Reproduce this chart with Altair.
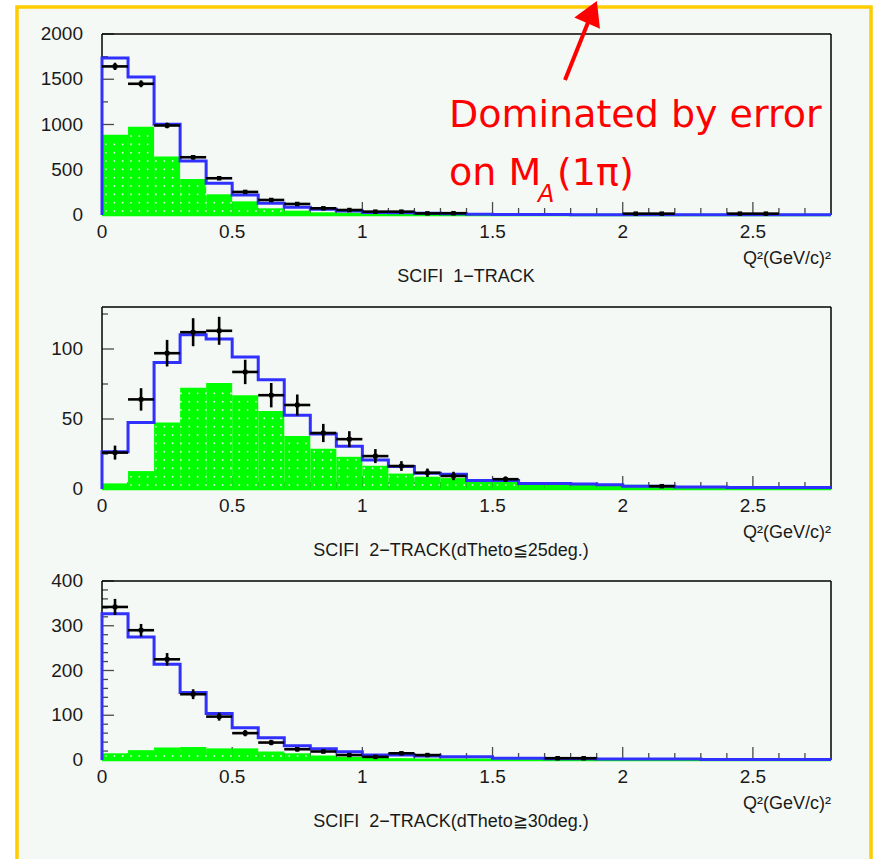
import altair as alt
import pandas as pd

# ---------------- data ----------------
X_MAX = 2.8
BIN_W = 0.1
bin_starts = [round(i * BIN_W, 1) for i in range(28)]

x_major = [0, 0.5, 1, 1.5, 2, 2.5]
x_major_labels = ["0", "0.5", "1", "1.5", "2", "2.5"]
x_minor = [round(0.1 * i, 1) for i in range(1, 28) if i % 5 != 0]

# Panel 1 : SCIFI 1-TRACK
p1_mc = [1734, 1524, 1004, 598, 350, 221, 129, 85, 63, 44, 29, 26, 18, 15,
         7, 6, 5, 5, 4, 4, 3, 3, 3, 2, 2, 2, 2, 2]
p1_bg = [886, 974, 646, 399, 229, 151, 74, 48, 30, 25, 20, 18, 14, 12,
         5, 5, 4, 4, 3, 3, 3, 2, 2, 2, 2, 2, 2, 2]
p1_pt_bin = [0.0, 0.1, 0.2, 0.3, 0.4, 0.5, 0.6, 0.7, 0.8, 0.9, 1.0, 1.1, 1.2, 1.3, 2.0, 2.1, 2.4, 2.5]
p1_pt_val = [1642, 1450, 989, 638, 406, 255, 166, 122, 74, 55, 37, 37, 18, 20, 15, 15, 15, 15]
p1_pt_err = [40, 38, 31, 25, 20, 16, 13, 11, 9, 7, 6, 6, 5, 5, 0, 0, 0, 0]
p1_ymax = 2000
p1_y_major = [0, 500, 1000, 1500, 2000]
p1_y_minor = [250, 750, 1250, 1750]
p1_title = "SCIFI\u00a0 1\u2212TRACK"

# Panel 2 : SCIFI 2-TRACK (dTheta <= 25 deg)
p2_mc = [26.6, 47.5, 90.3, 110.2, 107.1, 94.3, 78.1, 52.7, 39.2, 30.6, 20.7, 16, 11.2, 10.5,
         6, 6, 4, 4, 3.5, 3, 2, 2, 1.5, 1.5, 1, 1, 1, 1]
p2_bg = [4, 12.8, 47.5, 72.4, 75.8, 67, 55.8, 37.8, 28.7, 23, 16.6, 11, 8.8, 7.8,
         6, 6, 3.5, 3.5, 3.5, 3.5, 3, 2, 1.5, 1.5, 1, 1, 1, 1]
p2_pt_bin = [0.0, 0.1, 0.2, 0.3, 0.4, 0.5, 0.6, 0.7, 0.8, 0.9, 1.0, 1.1, 1.2, 1.3, 1.5, 2.1]
p2_pt_val = [26, 64, 97, 112, 113, 83.6, 67, 60, 40, 35.6, 23.5, 16.4, 11.6, 9.3, 7, 2]
p2_pt_err = [5, 8, 9.5, 10, 10, 8.7, 8.7, 7.5, 6.5, 5.7, 5, 3.5, 3, 3, 2, 0]
p2_ymax = 130
p2_y_major = [0, 50, 100]
p2_y_minor = [25, 75, 125]
p2_title = "SCIFI\u00a0 2\u2212TRACK(dTheto\u226625deg.)"

# Panel 3 : SCIFI 2-TRACK (dTheta >= 30 deg)
p3_mc = [327, 275, 214, 151, 104, 72, 50, 32, 25, 18.6, 11, 11, 9, 7,
         7, 4, 4, 3, 3, 2, 2, 2, 2, 1, 1, 1, 1, 1]
p3_bg = [15, 22, 28, 29, 26, 26, 19, 15, 10, 7, 5, 4, 3, 3,
         3, 2, 2, 2, 2, 2, 1, 1, 1, 1, 1, 1, 1, 1]
p3_pt_bin = [0.0, 0.1, 0.2, 0.3, 0.4, 0.5, 0.6, 0.7, 0.8, 0.9, 1.0, 1.1, 1.2, 1.7, 1.8]
p3_pt_val = [342, 290, 225, 147, 97, 60, 39, 24, 19, 11, 7, 15, 11, 4, 4]
p3_pt_err = [18, 14, 14, 11, 9, 7, 6, 5, 4, 3, 3, 3, 3, 0, 0]
p3_ymax = 400
p3_y_major = [0, 100, 200, 300, 400]
p3_y_minor = [20, 40, 60, 80, 120, 140, 160, 180, 220, 240, 260, 280, 320, 340, 360, 380]
p3_title = "SCIFI\u00a0 2\u2212TRACK(dTheto\u226730deg.)"

x_title = "Q\u00b2(GeV/c)\u00b2"
note_line1 = "Dominated by error"
note_line2a = "on M"
note_sub = "A"
note_line2b = "(1\u03c0)"

# ---------------- layout ----------------
W = 729
H_TOTAL = 726
P1_RANGE = [181, 0]
P2_RANGE = [455, 273]
P3_RANGE = [726, 547]

GREEN = "#00ff00"
BLUE = "#3030ff"
RED = "#ff0000"
FONT = "Liberation Sans"
TXT = "#1a1a1a"

xscale = alt.Scale(domain=[0, X_MAX], nice=False, zero=False)


def stipple(bg, ppu):
    xs, ys = [], []
    step = 8.33
    i = 0
    while True:
        xp = 4 + i * step
        if xp > W - 2:
            break
        xv = xp / W * X_MAX
        b = min(int(xv / BIN_W), len(bg) - 1)
        top_px = bg[b] * ppu
        j = 0
        while True:
            yp = 4 + j * step
            if yp > top_px - 2.5:
                break
            xs.append(xv)
            ys.append(yp / ppu)
            j += 1
        i += 1
    return pd.DataFrame({"x": xs, "y": ys})


def X(f):
    return alt.X(f, scale=xscale, axis=None)


def panel(mc, bg, pb, pv, pe, ymax, rng, ymaj, ymin, title, title_x, extra=None):
    ys = alt.Scale(domain=[0, ymax], range=rng, nice=False, zero=True)
    ppu = abs(rng[0] - rng[1]) / ymax

    def Y(f):
        return alt.Y(f, scale=ys, axis=None)

    line_df = pd.DataFrame({
        "i": list(range(len(bin_starts) + 2)),
        "x": [0.0] + bin_starts + [X_MAX],
        "mc": [0] + mc + [mc[-1]],
    })
    bar_df = pd.DataFrame({"x": bin_starts, "x2": [b + BIN_W for b in bin_starts],
                           "bg": bg, "z": [0] * len(bg)})
    pts = pd.DataFrame({"b": pb, "v": pv, "e": pe})
    pts["xl"] = pts["b"]
    pts["xr"] = pts["b"] + BIN_W
    pts["xc"] = pts["b"] + BIN_W / 2
    pts["lo"] = pts["v"] - pts["e"]
    pts["hi"] = pts["v"] + pts["e"]

    frame_df = pd.DataFrame({"x0": [0.0], "x1": [X_MAX], "y0": [0], "y1": [ymax],
                             "xt": [x_title], "tt": [title]})
    ymaj_df = pd.DataFrame({"y": ymaj, "t": [str(v) for v in ymaj], "x0": [0.0] * len(ymaj)})
    ymaj_tick_df = pd.DataFrame({"y": [v for v in ymaj if v > 0]})
    ymaj_tick_df["x0"] = 0.0
    ymin_df = pd.DataFrame({"y": ymin, "x0": [0.0] * len(ymin)})
    xmaj_df = pd.DataFrame({"x": x_major, "t": x_major_labels, "y0": [0] * len(x_major)})
    xmin_df = pd.DataFrame({"x": x_minor, "y0": [0] * len(x_minor)})
    dots = stipple(bg, ppu)

    top = alt.Chart(frame_df).mark_rule(color="black", strokeWidth=1.5).encode(
        x=X("x0:Q"), x2="x1:Q", y=Y("y1:Q"))
    right = alt.Chart(frame_df).mark_rule(color="black", strokeWidth=1.5).encode(
        x=X("x1:Q"), y=Y("y0:Q"), y2="y1:Q")
    left = alt.Chart(frame_df).mark_rule(color="black", strokeWidth=1.5).encode(
        x=X("x0:Q"), y=Y("y0:Q"), y2="y1:Q")

    ytick_maj = alt.Chart(ymaj_tick_df).mark_tick(orient="horizontal", color="black", thickness=1.3,
                                                  size=12, xOffset=6).encode(
        x=X("x0:Q"), y=Y("y:Q"))
    ytick_min = alt.Chart(ymin_df).mark_tick(orient="horizontal", color="black", thickness=1.3,
                                             size=6, xOffset=3).encode(
        x=X("x0:Q"), y=Y("y:Q"))
    xtick_maj = alt.Chart(xmaj_df).mark_tick(orient="vertical", color="black", thickness=1.3,
                                             size=13, yOffset=-6.5).encode(
        x=X("x:Q"), y=Y("y0:Q"))
    xtick_min = alt.Chart(xmin_df).mark_tick(orient="vertical", color="black", thickness=1.3,
                                             size=7, yOffset=-3.5).encode(
        x=X("x:Q"), y=Y("y0:Q"))

    bars = alt.Chart(bar_df).mark_rect(color=GREEN, opacity=1).encode(
        x=X("x:Q"), x2="x2:Q", y=Y("bg:Q"), y2="z:Q")
    dot_layer = alt.Chart(dots).mark_square(color="white", size=2.5, opacity=0.9).encode(
        x=X("x:Q"), y=Y("y:Q"))
    bottom = alt.Chart(frame_df).mark_rule(color=GREEN, strokeWidth=2.5).encode(
        x=X("x0:Q"), x2="x1:Q", y=Y("y0:Q"))
    line = alt.Chart(line_df).mark_line(interpolate="step-after", color=BLUE, strokeWidth=3).encode(
        x=X("x:Q"), y=Y("mc:Q"), order="i:Q")
    hbar = alt.Chart(pts).mark_rule(color="black", strokeWidth=2.6).encode(
        x=X("xl:Q"), x2="xr:Q", y=Y("v:Q"))
    vbar = alt.Chart(pts).mark_rule(color="black", strokeWidth=2.6).encode(
        x=X("xc:Q"), y=Y("lo:Q"), y2="hi:Q")
    mark = alt.Chart(pts).mark_square(color="black", size=20, opacity=1).encode(
        x=X("xc:Q"), y=Y("v:Q"))

    ylab = alt.Chart(ymaj_df).mark_text(align="right", baseline="middle", font=FONT,
                                        fontSize=19, color=TXT, dx=-19).encode(
        x=X("x0:Q"), y=Y("y:Q"), text="t:N")
    xlabs = alt.Chart(xmaj_df).mark_text(align="center", baseline="middle", font=FONT,
                                         fontSize=19, color=TXT, dy=17).encode(
        x=X("x:Q"), y=Y("y0:Q"), text="t:N")
    xlab = alt.Chart(frame_df).mark_text(align="right", baseline="middle", font=FONT,
                                         fontSize=18, color=TXT, dy=44).encode(
        x=X("x1:Q"), y=Y("y0:Q"), text="xt:N")
    tlab = alt.Chart(frame_df).mark_text(align="center", baseline="middle", font=FONT,
                                         fontSize=18, color=TXT, dy=62).encode(
        x=alt.value(title_x), y=Y("y0:Q"), text="tt:N")

    layers = [top, right, left, ytick_maj, ytick_min, xtick_maj, xtick_min,
              bars, dot_layer, bottom, line, hbar, vbar, mark, ylab, xlabs, xlab, tlab]
    if extra:
        layers = extra + layers
    return alt.layer(*layers)


# border and annotation (positions in pixels)
border = alt.Chart(pd.DataFrame({"a": [0]})).mark_rect(
    fill="#f5f9f5", stroke="#ffcc00", strokeWidth=3.5).encode(
    x=alt.value(-85), x2=alt.value(769), y=alt.value(-27), y2=alt.value(850))

note_df = pd.DataFrame({"t1": [note_line1], "t2": [note_line2a], "t3": [note_sub], "t4": [note_line2b]})
note1 = alt.Chart(note_df).mark_text(align="left", baseline="alphabetic", font="DejaVu Sans",
                                     fontSize=38, color=RED).encode(
    x=alt.value(347), y=alt.value(93), text="t1:N")
note2 = alt.Chart(note_df).mark_text(align="left", baseline="alphabetic", font="DejaVu Sans",
                                     fontSize=38, color=RED).encode(
    x=alt.value(347), y=alt.value(151), text="t2:N")
note3 = alt.Chart(note_df).mark_text(align="left", baseline="alphabetic", font="DejaVu Sans",
                                     fontSize=24, color=RED, fontStyle="italic").encode(
    x=alt.value(436), y=alt.value(168), text="t3:N")
note4 = alt.Chart(note_df).mark_text(align="left", baseline="alphabetic", font="DejaVu Sans",
                                     fontSize=38, color=RED).encode(
    x=alt.value(455), y=alt.value(151), text="t4:N")
arrow_shaft = alt.Chart(note_df).mark_rule(color=RED, strokeWidth=4).encode(
    x=alt.value(463), y=alt.value(46), x2=alt.value(487), y2=alt.value(-14))
arrow_head = alt.Chart(note_df).mark_point(shape="triangle-up", filled=True, color=RED,
                                           size=784, angle=23.6, opacity=1).encode(
    x=alt.value(490), y=alt.value(-22))

p1 = panel(p1_mc, p1_bg, p1_pt_bin, p1_pt_val, p1_pt_err, p1_ymax, P1_RANGE,
           p1_y_major, p1_y_minor, p1_title, 364, extra=[border])
p2 = panel(p2_mc, p2_bg, p2_pt_bin, p2_pt_val, p2_pt_err, p2_ymax, P2_RANGE,
           p2_y_major, p2_y_minor, p2_title, 349)
p3 = panel(p3_mc, p3_bg, p3_pt_bin, p3_pt_val, p3_pt_err, p3_ymax, P3_RANGE,
           p3_y_major, p3_y_minor, p3_title, 349)

notes = alt.layer(note1, note2, note3, note4, arrow_shaft, arrow_head)

chart = alt.layer(p1, p2, p3, notes).resolve_scale(
    y="independent"
).properties(
    width=W, height=H_TOTAL,
    autosize=alt.AutoSizeParams(type="none"),
    padding={"left": 102, "top": 34, "right": 44, "bottom": 99},
    background="white",
).configure_view(stroke=None)

chart.save("out.html", embed_options={"renderer": "svg", "actions": False})
